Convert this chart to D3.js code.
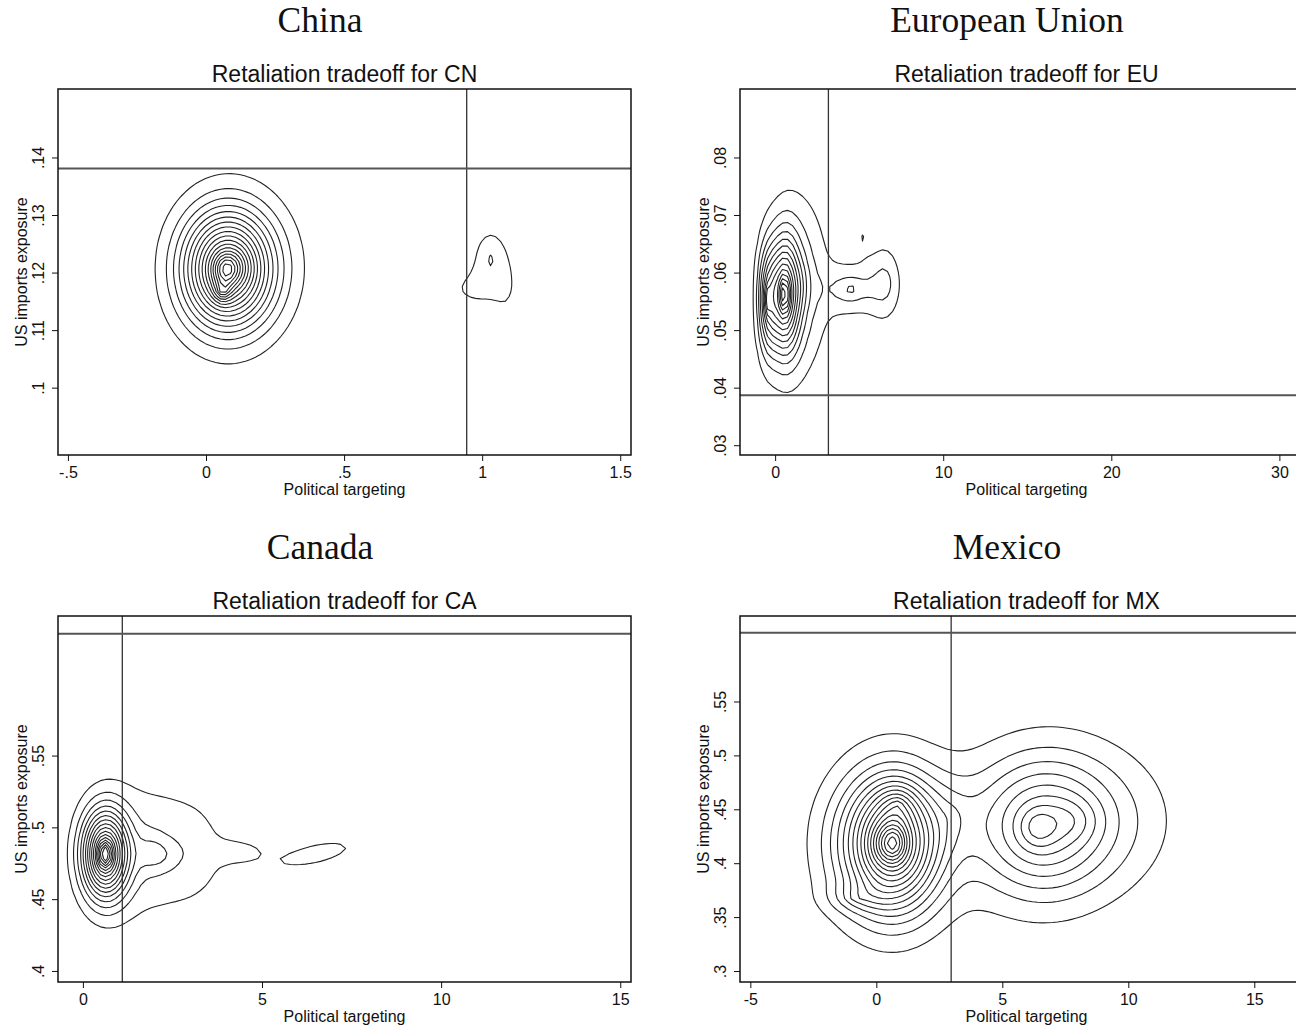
<!DOCTYPE html>
<html><head><meta charset="utf-8">
<script src="https://cdn.jsdelivr.net/npm/d3@7"></script>
<style>body{margin:0;background:#fff}svg{display:block}</style>
</head><body>
<svg id="c" width="1296" height="1029"></svg>
<script>
// ---------------- data ----------------
const countries = ["China", "European Union", "Canada", "Mexico"];
const subtitles = ["Retaliation tradeoff for CN", "Retaliation tradeoff for EU", "Retaliation tradeoff for CA", "Retaliation tradeoff for MX"];
const xTitle = "Political targeting";
const yTitle = "US imports exposure";

const cnXRange = [-0.536, 1.539], cnYRange = [0.0883, 0.1519];
const euXRange = [-2.09, 32.0],   euYRange = [0.0283, 0.0919];
const caXRange = [-0.695, 15.30], caYRange = [0.3923, 0.6472];
const mxXRange = [-5.41, 17.33],  mxYRange = [0.2898, 0.6293];

const cnXTicks = [-0.5, 0, 0.5, 1, 1.5], cnYTicks = [0.10, 0.11, 0.12, 0.13, 0.14];
const euXTicks = [0, 10, 20, 30],        euYTicks = [0.03, 0.04, 0.05, 0.06, 0.07, 0.08];
const caXTicks = [0, 5, 10, 15],         caYTicks = [0.40, 0.45, 0.50, 0.55];
const mxXTicks = [-5, 0, 5, 10, 15],     mxYTicks = [0.30, 0.35, 0.40, 0.45, 0.50, 0.55];

// reference lines (vertical x, horizontal y)
const cnRef = [0.944, 0.1381];
const euRef = [3.17, 0.0387];
const caRef = [1.10, 0.6349];
const mxRef = [2.97, 0.6138];

// density bumps: [x, y, x-radius, y-radius, height, tilt]
const cnBlobs = [
  [0.070, 0.1205, 0.250, 0.0160, 0.75],
  [0.110, 0.1210, 0.300, 0.0175, 0.28],
  [0.060, 0.1167, 0.050, 0.0030, 0.20],
  [1.030, 0.1224, 0.130, 0.0110, 0.104],
  [0.960, 0.1172, 0.160, 0.0060, 0.062],
  [1.085, 0.1172, 0.080, 0.0090, 0.050]
];
const euBlobs = [
  [0.55, 0.0562, 1.50, 0.0165, 0.72],
  [-0.45, 0.0553, 0.95, 0.0150, 0.35],
  [1.60, 0.0580, 2.90, 0.0260, 0.15],
  [4.50, 0.0571, 2.60, 0.0070, 0.16],
  [6.50, 0.0582, 1.80, 0.0120, 0.13],
  [5.25, 0.0662, 0.80, 0.0060, 0.047]
];
const caBlobs = [
  [0.62, 0.4814, 1.05, 0.0500, 1.0],
  [1.90, 0.4840, 2.20, 0.0850, 0.125],
  [2.10, 0.4810, 1.00, 0.0200, 0.10],
  [3.30, 0.4830, 1.60, 0.0750, 0.07],
  [4.40, 0.4830, 1.40, 0.0150, 0.095],
  [6.50, 0.4815, 2.30, 0.0200, 0.117, 0.6]
];
const mxBlobs = [
  [0.45, 0.4180, 3.60, 0.105, 0.55],
  [0.75, 0.4190, 2.60, 0.095, 0.45],
  [0.85, 0.4550, 1.20, 0.030, 0.12],
  [-0.80, 0.3680, 2.00, 0.022, 0.10],
  [3.00, 0.4450, 2.00, 0.060, 0.06],
  [6.40, 0.4330, 4.20, 0.105, 0.33],
  [7.80, 0.4400, 5.80, 0.110, 0.20]
];
const cnLevels = 18, euLevels = 18, caLevels = 16, mxLevels = 18;

// ---------------- drawing ----------------
const svg = d3.select("#c");
const FS = "'Liberation Sans', Arial, sans-serif";
const kernel = r2 => 0.27 * Math.exp(-r2 / 0.0288) + 0.63 * Math.exp(-r2 / 0.32) + 0.10 * Math.exp(-r2 / 0.72);
function dens(blobs, x, y) {
  let s = 0;
  for (const [cx, cy, rx, ry, w, rho = 0] of blobs) {
    const u = (x - cx) / rx, v = (y - cy) / ry;
    s += w * kernel((u * u - 2 * rho * u * v + v * v) / (1 - rho * rho));
  }
  return s;
}
const fmt = v => { let s = String(+v.toFixed(4)); return s.replace(/^0\./, ".").replace(/^-0\./, "-."); };

const panels = [
  {t: countries[0], s: subtitles[0], xr: cnXRange, yr: cnYRange, xt: cnXTicks, yt: cnYTicks, ref: cnRef, blobs: cnBlobs, L: cnLevels, left: 58, top: 89, tx: 320},
  {t: countries[1], s: subtitles[1], xr: euXRange, yr: euYRange, xt: euXTicks, yt: euYTicks, ref: euRef, blobs: euBlobs, L: euLevels, left: 740, top: 89, tx: 1007},
  {t: countries[2], s: subtitles[2], xr: caXRange, yr: caYRange, xt: caXTicks, yt: caYTicks, ref: caRef, blobs: caBlobs, L: caLevels, left: 58, top: 616, tx: 320},
  {t: countries[3], s: subtitles[3], xr: mxXRange, yr: mxYRange, xt: mxXTicks, yt: mxYTicks, ref: mxRef, blobs: mxBlobs, L: mxLevels, left: 740, top: 616, tx: 1007}
];
const W = 573, H = 366;

panels.forEach((p, idx) => {
  const x = d3.scaleLinear().domain(p.xr).range([p.left, p.left + W]);
  const y = d3.scaleLinear().domain(p.yr).range([p.top + H, p.top]);

  svg.append("text").attr("x", p.tx).attr("y", p.top - 57)
    .attr("text-anchor", "middle").attr("font-family", "'Liberation Serif', 'DejaVu Serif', serif")
    .attr("font-size", 35.5).attr("fill", "#111").text(p.t);
  svg.append("text").attr("x", p.left + W / 2).attr("y", p.top - 7)
    .attr("text-anchor", "middle").attr("font-family", FS)
    .attr("font-size", 23).attr("fill", "#111").text(p.s);

  const clipId = "clip" + idx;
  svg.append("clipPath").attr("id", clipId).append("rect")
    .attr("x", p.left).attr("y", p.top).attr("width", W).attr("height", H);
  const g = svg.append("g").attr("clip-path", `url(#${clipId})`);

  // density grid
  const cell = 5;
  const nx = Math.ceil(W / cell), ny = Math.ceil(H / cell);
  const vals = new Float64Array(nx * ny);
  for (let j = 0; j < ny; j++) for (let i = 0; i < nx; i++) {
    vals[j * nx + i] = dens(p.blobs, x.invert(p.left + (i + 0.5) * cell), y.invert(p.top + (j + 0.5) * cell));
  }
  const step = 1 / (p.L + 1);
  const thr = d3.range(1, p.L + 1).map(k => k * step);
  const cont = d3.contours().size([nx, ny]).thresholds(thr)(Array.from(vals));
  const proj = d3.geoTransform({point(px, py) { this.stream.point(p.left + px * cell, p.top + py * cell); }});
  const path = d3.geoPath(proj);
  g.selectAll("path.c").data(cont).join("path").attr("class", "c")
    .attr("d", path).attr("fill", "none").attr("stroke", "#222").attr("stroke-width", 1.1)
    .attr("stroke-linejoin", "round");

  // reference lines
  g.append("line").attr("x1", x(p.ref[0])).attr("x2", x(p.ref[0])).attr("y1", p.top).attr("y2", p.top + H)
    .attr("stroke", "#333").attr("stroke-width", 1.3);
  g.append("line").attr("x1", p.left).attr("x2", p.left + W).attr("y1", y(p.ref[1])).attr("y2", y(p.ref[1]))
    .attr("stroke", "#555").attr("stroke-width", 2);

  // frame
  svg.append("rect").attr("x", p.left).attr("y", p.top).attr("width", W).attr("height", H)
    .attr("fill", "none").attr("stroke", "#111").attr("stroke-width", 1.5);

  // x axis
  const xa = svg.append("g").attr("transform", `translate(0,${p.top + H})`)
    .call(d3.axisBottom(x).tickValues(p.xt).tickFormat(fmt).tickSize(6).tickSizeOuter(0));
  xa.select(".domain").remove();
  xa.selectAll("line").attr("stroke", "#111");
  xa.selectAll("text").attr("y", 23).attr("dy", null).attr("font-size", 16).attr("font-family", FS).attr("fill", "#111");
  svg.append("text").attr("x", p.left + W / 2).attr("y", p.top + H + 40)
    .attr("text-anchor", "middle").attr("font-family", FS).attr("font-size", 16).attr("fill", "#111").text(xTitle);

  // y axis
  const ya = svg.append("g").attr("transform", `translate(${p.left},0)`)
    .call(d3.axisLeft(y).tickValues(p.yt).tickFormat(fmt).tickSize(6).tickSizeOuter(0));
  ya.select(".domain").remove();
  ya.selectAll("line").attr("stroke", "#111");
  ya.selectAll("text").attr("x", 0).attr("y", 0).attr("dy", null).attr("text-anchor", "middle")
    .attr("transform", "translate(-14,0) rotate(-90)")
    .attr("font-size", 16).attr("font-family", FS).attr("fill", "#111");
  svg.append("text").attr("transform", `translate(${p.left - 31},${p.top + H / 2}) rotate(-90)`)
    .attr("text-anchor", "middle").attr("font-family", FS).attr("font-size", 16).attr("fill", "#111").text(yTitle);
});
</script>
</body></html>
